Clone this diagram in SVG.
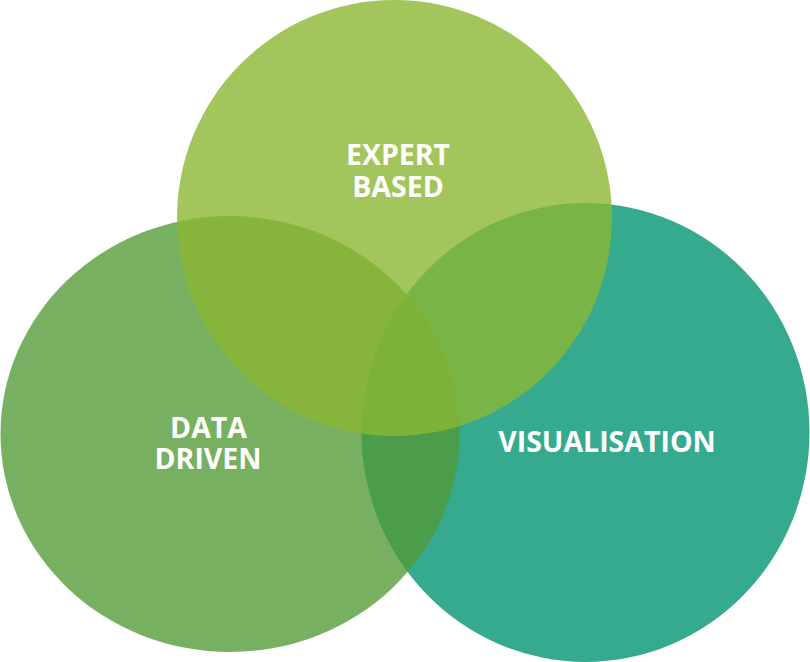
<svg xmlns="http://www.w3.org/2000/svg" width="810" height="662" viewBox="0 0 810 662">
<style>
.lbl{font-family:"Open Sans","Liberation Sans",sans-serif;font-weight:700;font-size:28.5px;fill:#ffffff;text-anchor:middle}
</style>
<rect width="810" height="662" fill="#ffffff"/>
<g id="visualisation">
<ellipse cx="585.5" cy="432.5" rx="224" ry="229.5" fill="#35AA8F"/>
<text class="lbl" x="607" y="452">VISUALISATION</text>
</g>
<g id="data-driven">
<ellipse cx="230" cy="434" rx="229.5" ry="218" fill="#529A36" fill-opacity="0.78"/>
<text class="lbl"><tspan x="208.5" y="438">DATA</tspan><tspan x="208" y="469">DRIVEN</tspan></text>
</g>
<g id="expert-based">
<ellipse cx="394.5" cy="218" rx="217.5" ry="218" fill="#8BB633" fill-opacity="0.8"/>
<text class="lbl"><tspan x="398" y="165">EXPERT</tspan><tspan x="398" y="197">BASED</tspan></text>
</g>
<g id="connectors"/>
</svg>
